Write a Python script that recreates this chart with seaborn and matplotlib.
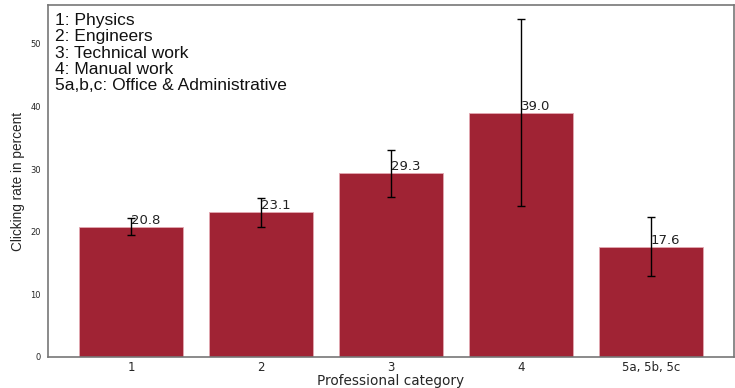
import matplotlib
matplotlib.use('Agg')
import matplotlib.pyplot as plt
import seaborn as sns
import pandas as pd

categories = ['1', '2', '3', '4', '5a, 5b, 5c']
rates = [20.8, 23.1, 29.3, 39.0, 17.6]
errors = [1.4, 2.35, 3.75, 14.9, 4.7]
legend_lines = ['1: Physics', '2: Engineers', '3: Technical work',
                '4: Manual work', '5a,b,c: Office & Administrative']

df = pd.DataFrame({'category': categories, 'rate': rates})

sns.set_style('white')
fig = plt.figure(figsize=(7.35, 3.88), dpi=100)
ax = fig.add_axes([0.0653, 0.080, 0.9333, 0.907])

sns.barplot(data=df, x='category', y='rate', color='#a02334', saturation=1,
            width=0.8, errorbar=None, edgecolor='#e3a9b2', linewidth=0.6, ax=ax)
ax.errorbar(range(len(rates)), rates, yerr=errors, fmt='none', ecolor='black',
            elinewidth=1, capsize=3, capthick=1)

# value labels next to each error bar
for i, v in enumerate(rates):
    ax.text(i, v, f'{v:.1f}', ha='left', va='bottom', fontsize=9.5, color='#222222')

ax.text(0.010, 0.977, '\n'.join(legend_lines), transform=ax.transAxes, va='top', ha='left',
        fontsize=12.5, family='Liberation Sans', linespacing=1.11, color='#111111')

ax.set_xlim(-0.64, 4.64)
ax.set_ylim(0, 56.2)
ax.set_yticks([0, 10, 20, 30, 40, 50])
ax.tick_params(axis='y', labelsize=6, length=3, pad=2, color='#555555')
ax.tick_params(axis='x', labelsize=8.5, length=2.5, pad=0.5, color='#555555')
ax.set_xlabel('Professional category', fontsize=9.8, labelpad=0)
ax.set_ylabel('Clicking rate in percent', fontsize=9.8, family='Liberation Sans', labelpad=4)
for s in ax.spines.values():
    s.set_color('#777777')
    s.set_linewidth(1.2)

fig.savefig('out.png', dpi=100)
